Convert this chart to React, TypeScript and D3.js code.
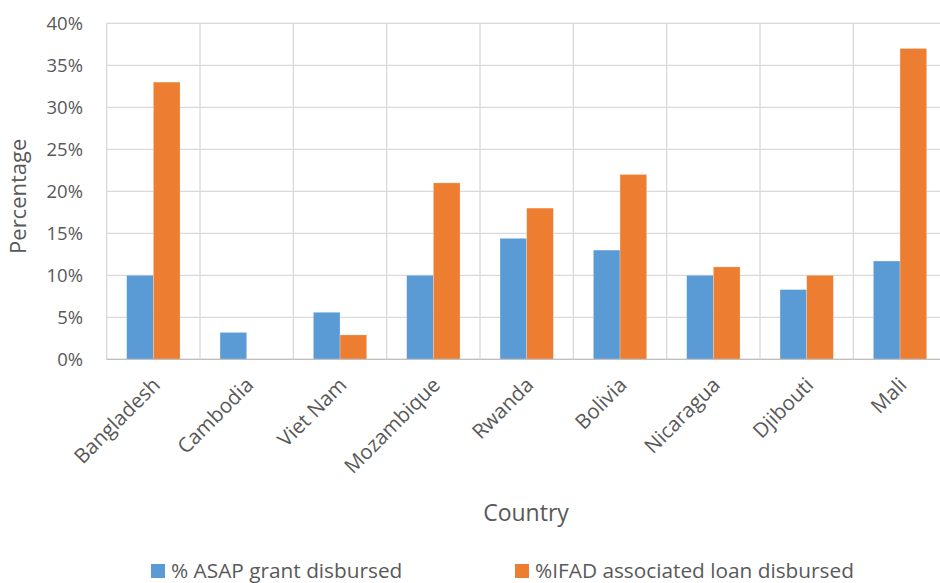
import React from "react";
import * as d3 from "d3";

const countries = ["Bangladesh", "Cambodia", "Viet Nam", "Mozambique", "Rwanda", "Bolivia", "Nicaragua", "Djibouti", "Mali"];
const asapGrant = [10, 3.2, 5.6, 10, 14.4, 13, 10, 8.3, 11.7];
const ifadLoan = [33, 0, 2.9, 21, 18, 22, 11, 10, 37];
const yTicks = [0, 5, 10, 15, 20, 25, 30, 35, 40];
const seriesNames = ["% ASAP grant disbursed", "%IFAD associated loan disbursed"];
const colors = ["#5B9BD5", "#ED7D31"];

const W = 940, H = 583;
const left = 106.7, right = 946.7, top = 23.3, bottom = 359.3;
const FONT = "'Open Sans', sans-serif";

export default function App() {
  const x = d3.scaleBand<string>().domain(countries).range([left, right]).paddingInner(0).paddingOuter(0);
  const y = d3.scaleLinear().domain([0, 40]).range([bottom, top]);
  const bw = x.bandwidth();
  const barW = bw / 3.5;
  const series = [asapGrant, ifadLoan];
  return (
    <svg width={W} height={H} style={{ position: "absolute", left: 0, top: 0, background: "#fff" }} fontFamily={FONT}>
      <rect x={0} y={0} width={W} height={H} fill="#fff" />
      {yTicks.map((t) => (
        <line key={"h" + t} x1={left} x2={right} y1={y(t)} y2={y(t)} stroke="#D9D9D9" strokeWidth={1.3} />
      ))}
      {countries.map((c) => (
        <line key={"v" + c} x1={x(c)!} x2={x(c)!} y1={top} y2={bottom} stroke="#D9D9D9" strokeWidth={1.3} />
      ))}
      {series.map((vals, s) =>
        vals.map((v, i) => {
          const c = countries[i];
          const gx = x(c)! + (bw - 2 * barW) / 2 + s * barW;
          return v > 0 ? (
            <rect key={s + "-" + c} x={gx} y={y(v)} width={barW} height={y(0) - y(v)} fill={colors[s]} stroke="#fff" strokeOpacity={0.4} strokeWidth={0.6} />
          ) : null;
        })
      )}
      <line x1={left} x2={right} y1={bottom} y2={bottom} stroke="#BFBFBF" strokeWidth={1.3} />
      {yTicks.map((t) => (
        <text key={"t" + t} x={83} y={y(t)} dy="0.36em" textAnchor="end" fontSize={18.5} fill="#595959">{t + "%"}</text>
      ))}
      {countries.map((c) => {
        const cx = x(c)! + bw / 2 + 8;
        const cy = bottom + 27;
        return (
          <text key={"l" + c} transform={`translate(${cx},${cy}) rotate(-45)`} textAnchor="end" fontSize={20.5} fill="#595959">{c}</text>
        );
      })}
      <text transform={`translate(26,${(top + bottom) / 2 + 5}) rotate(-90)`} textAnchor="middle" fontSize={22} fill="#595959">Percentage</text>
      <text x={526} y={521} textAnchor="middle" fontSize={23} fill="#595959">Country</text>
      {seriesNames.map((n, s) => {
        const lx = s === 0 ? 151 : 515;
        return (
          <g key={n}>
            <rect x={lx} y={564} width={14} height={14} fill={colors[s]} />
            <text x={lx + 20} y={578} fontSize={20.8} fill="#595959">{n}</text>
          </g>
        );
      })}
    </svg>
  );
}
